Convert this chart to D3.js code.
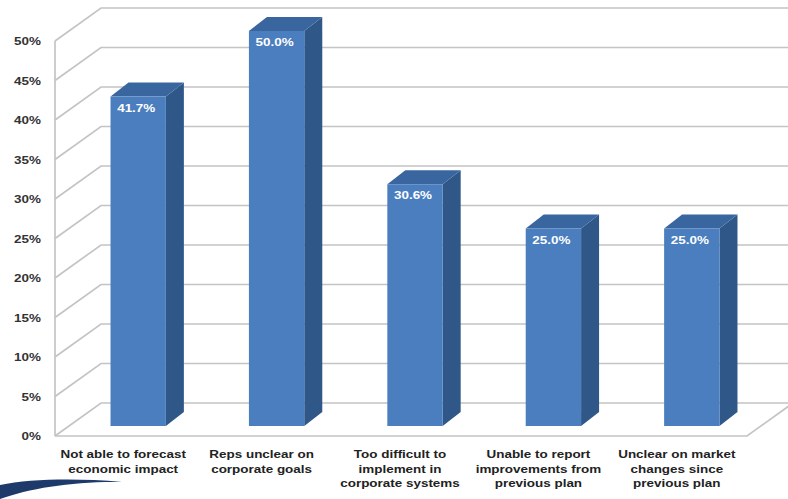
<!DOCTYPE html>
<html><head><meta charset="utf-8">
<script src="https://cdn.jsdelivr.net/npm/d3@7"></script>
<style>body{margin:0;background:#fff}svg{display:block}</style>
</head><body>
<svg id="c" width="788" height="499"></svg>
<script>
const categories = [
  ["Not able to forecast","economic impact"],
  ["Reps unclear on","corporate goals"],
  ["Too difficult to","implement in","corporate systems"],
  ["Unable to report","improvements from","previous plan"],
  ["Unclear on market","changes since","previous plan"]
];
const values = [0.417, 0.500, 0.306, 0.250, 0.250];
const valueLabels = ["41.7%","50.0%","30.6%","25.0%","25.0%"];
const ticks = [0,0.05,0.10,0.15,0.20,0.25,0.30,0.35,0.40,0.45,0.50];

const svg = d3.select("#c");
const x0 = 55, x1 = 747, yTop = 41, yBot = 436;
const wallDX = 46, wallDY = -33;
const barDX = 14, barDY = -10;
const depDX = 18, depDY = -14;
const SX = 1.17;
const FONT = "Liberation Sans, Arial, sans-serif";

const y = d3.scaleLinear().domain([0,0.5]).range([yBot,yTop]);
const x = d3.scaleBand().domain(d3.range(values.length)).range([x0,x1]).paddingInner(0.6).paddingOuter(0.3);

function stext(parent, tx, ty, str, anchor, size, fill){
  return parent.append("text")
    .attr("transform",`translate(${tx},${ty}) scale(${SX},1)`)
    .attr("text-anchor",anchor)
    .attr("font-family",FONT).attr("font-weight","bold")
    .attr("font-size",size).attr("fill",fill)
    .text(str);
}

// swoosh decoration
svg.append("path")
  .attr("d","M0,485 C30,479 75,478 122,482 C75,481 30,488 0,499 Z")
  .attr("fill","#1d3a6a");

const grid = svg.append("g").attr("stroke","#c4c4c4").attr("stroke-width",1.7).attr("fill","none");
ticks.forEach(t=>{
  const yy = y(t);
  grid.append("path").attr("d",`M${x0},${yy}L${x0+wallDX},${yy+wallDY}L788,${yy+wallDY}`);
});
grid.append("line").attr("x1",x0).attr("x2",x0).attr("y1",y(0.5)).attr("y2",y(0));
grid.append("path").attr("d",`M${x0},${y(0)}L${x1},${y(0)}L${x1+wallDX},${y(0)+wallDY}`);

// tick labels
const tg = svg.append("g");
ticks.forEach(t=>{
  stext(tg, 41, y(t)+4, Math.round(t*100)+"%", "end", 11.5, "#333");
});

// bars
const bars = svg.append("g");
values.forEach((v,i)=>{
  const bx = x(i)+barDX, bw = x.bandwidth();
  const yb = y(0)+barDY, yt = y(v)+barDY;
  const g = bars.append("g");
  g.append("path").attr("d",`M${bx+bw},${yt}L${bx+bw+depDX},${yt+depDY}L${bx+bw+depDX},${yb+depDY}L${bx+bw},${yb}Z`)
    .attr("fill","#2f5889");
  g.append("path").attr("d",`M${bx},${yt}L${bx+depDX},${yt+depDY}L${bx+bw+depDX},${yt+depDY}L${bx+bw},${yt}Z`)
    .attr("fill","#3a66a0");
  g.append("rect").attr("x",bx).attr("y",yt).attr("width",bw).attr("height",yb-yt).attr("fill","#4a7ebf");
  stext(g, bx+bw/2-2, yt+15, valueLabels[i], "middle", 11.5, "#fff");
});

// category labels
const cl = svg.append("g");
categories.forEach((lines,i)=>{
  lines.forEach((l,j)=>stext(cl, x(i)+x.bandwidth()/2-1, 458+j*14.5, l, "middle", 11.5, "#222"));
});
</script>
</body></html>
